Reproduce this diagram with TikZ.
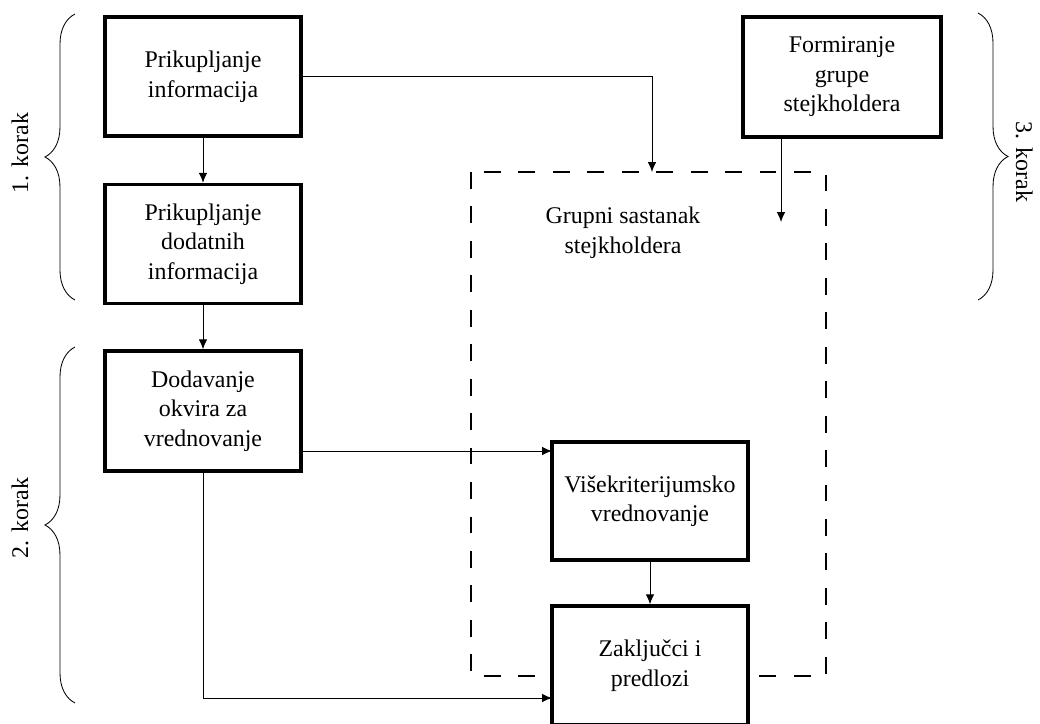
\documentclass[tikz,border=0pt]{standalone}
\usepackage{fontspec}
\setmainfont{Liberation Serif}
\usetikzlibrary{decorations.pathreplacing, arrows.meta}

\begin{document}
\begin{tikzpicture}[%
        x = 0.025cm,
        y = -0.025cm,
        > = {Latex[length = 7pt, width = 6pt]},
        font = \fontsize{17}{21}\selectfont,
        every node/.style = {align = center},
        stepbox/.style = {%
            draw = black,
            fill = white,
            line width = 2.4pt,
            minimum width = 4.9cm,
            minimum height = 2.975cm,
            inner sep = 0pt
        },
        flow/.style = {%
            draw = black,
            line width = 0.7pt,
            ->
        },
        meetingbox/.style = {%
            draw = black,
            line width = 2pt,
            dash pattern = on 12pt off 12.5pt
        },
        korakbrace/.style = {%
            decorate,
            decoration = {brace, amplitude = 0.75cm},
            line width = 0.6pt
        }
    ]

        % Fix the page size.
        \useasboundingbox (0, 0) rectangle (1040, 724);

        % Dashed frame for the group meeting.
        \draw[meetingbox] (471, 172) rectangle (826, 676);
        \node (grupni) at (623, 233) {Grupni sastanak\\stejkholdera};

        % Draw the steps.
        \node[stepbox] (prik) at (203, 76.5) {Prikupljanje\\informacija};
        \node[stepbox] (dodat) at (203, 244) {Prikupljanje\\dodatnih\\informacija};
        \node[stepbox, minimum height = 3cm] (okvir) at (203, 411) {Dodavanje\\okvira za\\vrednovanje};
        \node[stepbox, minimum width = 4.95cm, minimum height = 3cm] (form) at (842, 77) {Formiranje\\grupe\\stejkholdera};
        \node[stepbox, minimum height = 2.95cm] (visek) at (650, 501) {Višekriterijumsko\\vrednovanje};
        \node[stepbox] (zaklj) at (650, 665.5) {Zaključci i\\predlozi};

        % Free ends of the connectors.
        \coordinate (sastIn) at (652, 172);
        \coordinate (formIn) at (781, 222);
        \coordinate (visekIn) at (552, 451);
        \coordinate (zakljIn) at (552, 698);

        % Draw the connectors.
        \draw[flow] (prik.east) -| (sastIn);
        \draw[flow] (form.south -| formIn) -- (formIn);
        \draw[flow] (prik) -- (dodat);
        \draw[flow] (dodat) -- (okvir);
        \draw[flow] (okvir.east |- visekIn) -- (visekIn);
        \draw[flow] (okvir.south) |- (zakljIn);
        \draw[flow] (visek) -- (zaklj);

        % Braces and labels of the three steps.
        \draw[korakbrace] (75, 300) -- (75, 14);
        \draw[korakbrace] (75, 703) -- (75, 347);
        \draw[korakbrace] (978, 13) -- (978, 300);
        \node[rotate = 90, anchor = base] (korak1) at (28, 153) {1. korak};
        \node[rotate = 90, anchor = base] (korak2) at (28, 518) {2. korak};
        \node[rotate = -90, anchor = base] (korak3) at (1016, 162) {3. korak};
    \end{tikzpicture}
\end{document}
